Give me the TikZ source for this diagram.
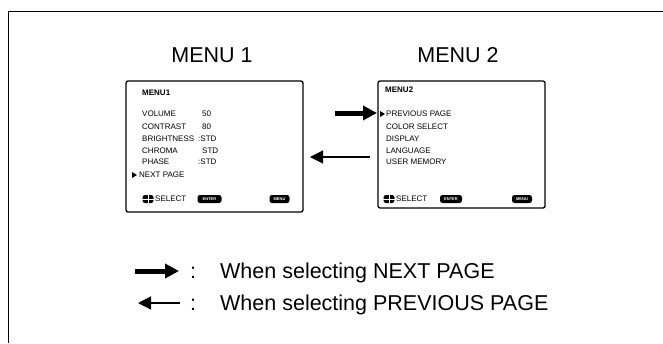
\documentclass[tikz,border=0pt]{standalone}
\usepackage{fontspec}
\setmainfont{Liberation Sans}
\usetikzlibrary{arrows.meta}
\tikzset{
  osd/.style={anchor=west,inner sep=0pt,font=\fontsize{8}{8}\selectfont},
  title/.style={inner sep=0pt,font=\fontsize{21.5}{21.5}\selectfont},
  legend/.style={anchor=base west,inner sep=0pt,font=\fontsize{21.5}{21.5}\selectfont},
  screen/.style={draw,line width=1.3pt,rounded corners=2pt,inner sep=0pt},
  btn/.style={fill=black,rounded corners=2.5pt,inner sep=0.6pt,text=white,font=\fontsize{4}{4}\selectfont\bfseries},
  thickarrow/.style={line width=5pt,-{Triangle[length=14pt,width=14pt]}},
  thinarrow/.style={line width=1.2pt,-{Triangle[length=13pt,width=13pt]}},
  marker/.style={fill=black}
}
\begin{document}
\begin{tikzpicture}[x=1pt,y=-1pt]
\useasboundingbox (0,0) rectangle (663,343);
% frame
\draw[line width=0.9pt] (8,343) -- (8,11) -- (663,11);
% titles
\node[title] (t1) at (212,55) {MENU 1};
\node[title] (t2) at (458,55) {MENU 2};
% screens
\node[screen,minimum width=177pt,minimum height=131pt] (s1) at (214.5,146.5) {};
\node[screen,minimum width=167pt,minimum height=127pt] (s2) at (461.5,144.5) {};
% menu 1 content
\node[osd] (m1h) at (142,93) {\bfseries MENU1};
\node[osd] (m1a) at (142,114) {VOLUME};
\node[osd] (m1b) at (142,127) {CONTRAST};
\node[osd] (m1c) at (142,139) {BRIGHTNESS};
\node[osd] (m1d) at (142,151) {CHROMA};
\node[osd] (m1e) at (142,162) {PHASE};
\node[osd] (m1f) at (139,175) {NEXT PAGE};
\node[osd] (v1a) at (202,114) {50};
\node[osd] (v1b) at (202,127) {80};
\node[osd] (v1c) at (198,139) {:STD};
\node[osd] (v1d) at (202,151) {STD};
\node[osd] (v1e) at (198,162) {:STD};
\fill[marker] (132,172) -- (137,175) -- (132,178) -- cycle;
% menu 1 bottom row
\node[btn,minimum width=11pt,minimum height=8pt] (i1) at (148,199) {};
\draw[white,line width=0.5pt] (i1.north) -- (i1.south) (i1.west) -- (i1.east);
\node[osd] (sel1) at (155,199) {SELECT};
\node[btn,minimum width=24pt,minimum height=8pt] (e1) at (209.5,199) {ENTER};
\node[btn,minimum width=20pt,minimum height=8pt] (mb1) at (279.5,199) {MENU};
% menu 2 content
\node[osd] (m2h) at (385,90) {\bfseries MENU2};
\node[osd] (m2a) at (386,114) {PREVIOUS PAGE};
\node[osd] (m2b) at (386,127) {COLOR SELECT};
\node[osd] (m2c) at (386,139) {DISPLAY};
\node[osd] (m2d) at (386,151) {LANGUAGE};
\node[osd] (m2e) at (386,162) {USER MEMORY};
\fill[marker] (380,111) -- (385,114) -- (380,117) -- cycle;
% menu 2 bottom row
\node[btn,minimum width=11pt,minimum height=8pt] (i2) at (389,199) {};
\draw[white,line width=0.5pt] (i2.north) -- (i2.south) (i2.west) -- (i2.east);
\node[osd] (sel2) at (396,199) {SELECT};
\node[btn,minimum width=22pt,minimum height=8pt] (e2) at (451,199) {ENTER};
\node[btn,minimum width=20pt,minimum height=8pt] (mb2) at (522,199) {MENU};
% connecting arrows
\coordinate (a1s) at (335,113);
\coordinate (a1e) at (377,113);
\draw[thickarrow] (a1s) -- (a1e);
\coordinate (a2s) at (370,157);
\coordinate (a2e) at (310,157);
\draw[thinarrow] (a2s) -- (a2e);
% legend
\coordinate (l1s) at (135,271);
\coordinate (l1e) at (179,271);
\draw[thickarrow] (l1s) -- (l1e);
\node[legend] (lt1) at (190,278.7) {:\hspace{24pt}When selecting NEXT PAGE};
\coordinate (l2s) at (180,303);
\coordinate (l2e) at (138,303);
\draw[thinarrow] (l2s) -- (l2e);
\node[legend] (lt2) at (190,310.7) {:\hspace{24pt}When selecting PREVIOUS PAGE};
\end{tikzpicture}
\end{document}
